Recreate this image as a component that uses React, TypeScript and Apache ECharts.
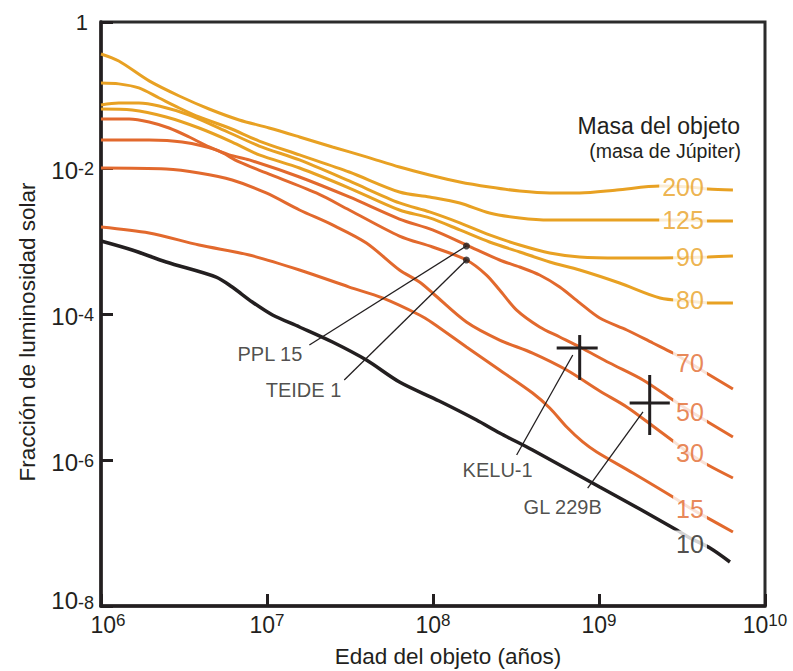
import React, { useEffect, useRef } from 'react';
import * as echarts from 'echarts';

const FONT = '"Liberation Sans", Arial, Helvetica, sans-serif';
const INK = '#231F20';
const GOLD = '#E8A123';
const ORANGE = '#E2692D';

// Axis ticks (age in years, luminosity as fraction of solar)
const xTicks = [1e6, 1e7, 1e8, 1e9, 1e10];
const yTicks = [1e-8, 1e-6, 1e-4, 1e-2, 1];

// Evolutionary tracks: [age (years), luminosity (L/Lsun)]
const mass200 = [
  [1.0e6, 0.365], [1.28e6, 0.292], [1.95e6, 0.156], [2.96e6, 0.0969], [4.48e6, 0.0643],
  [6.8e6, 0.0455], [1.03e7, 0.0353], [1.57e7, 0.0266], [2.48e7, 0.0194], [3.97e7, 0.0142],
  [6.28e7, 0.0103], [9.53e7, 0.00802], [1.45e8, 0.00643], [2.19e8, 0.00549], [3.33e8, 0.00484],
  [5.05e8, 0.00455], [7.65e8, 0.00455], [1.28e9, 0.005], [2.33e9, 0.00567], [3.53e9, 0.00549],
  [4.53e9, 0.00516], [6.41e9, 0.005],
];
const mass125 = [
  [1.0e6, 0.146], [1.28e6, 0.142], [1.69e6, 0.125], [2.24e6, 0.091], [2.96e6, 0.0664],
  [3.9e6, 0.05], [5.92e6, 0.0353], [8.98e6, 0.0234], [1.57e7, 0.0151], [3.13e7, 0.00881],
  [6.28e7, 0.00469], [9.53e7, 0.00401], [1.45e8, 0.00332], [2.19e8, 0.00242], [3.33e8, 0.00207],
  [5.05e8, 0.00194], [7.65e8, 0.00194], [1.53e9, 0.00194], [3.53e9, 0.00194], [4.53e9, 0.00188],
  [6.41e9, 0.00188],
];
const mass90 = [
  [1.0e6, 0.073], [1.28e6, 0.0777], [1.69e6, 0.0777], [2.24e6, 0.0707], [3.4e6, 0.0532],
  [5.15e6, 0.0353], [8.98e6, 0.02], [1.57e7, 0.0129], [3.13e7, 0.00664], [6.28e7, 0.00332],
  [9.53e7, 0.0025], [1.45e8, 0.00177], [2.19e8, 0.00121], [3.33e8, 0.000881], [5.05e8, 0.000685],
  [7.65e8, 0.000604], [1.33e9, 0.000585], [2.33e9, 0.000585], [3.53e9, 0.000595], [4.53e9, 0.000604],
  [6.41e9, 0.000623],
];
const mass80 = [
  [1.0e6, 0.0643], [1.54e6, 0.0623], [2.47e6, 0.05], [3.9e6, 0.0353], [6.17e6, 0.0227],
  [8.98e6, 0.0151], [1.57e7, 0.01], [3.13e7, 0.00532], [6.28e7, 0.00266], [9.53e7, 0.00207],
  [1.45e8, 0.00142], [2.19e8, 0.000969], [3.33e8, 0.000707], [5.05e8, 0.000516], [7.65e8, 0.000401],
  [1.33e9, 0.000266], [2.33e9, 0.000166], [3.53e9, 0.00015], [4.53e9, 0.000142], [6.41e9, 0.000142],
];
const mass70 = [
  [1.0e6, 0.0469], [1.48e6, 0.0469], [1.95e6, 0.0427], [2.57e6, 0.0353], [3.4e6, 0.0266],
  [4.48e6, 0.0194], [5.92e6, 0.0151], [7.82e6, 0.0129], [1.57e7, 0.00753], [3.13e7, 0.00401],
  [6.28e7, 0.002], [9.94e7, 0.00142], [1.59e8, 0.000881], [2.52e8, 0.000549], [3.33e8, 0.00044],
  [4.39e8, 0.000342], [5.8e8, 0.000234], [7.65e8, 0.000142], [1.01e9, 8.81e-5], [1.47e9, 6.04e-5],
  [2.11e9, 4.01e-5], [2.79e9, 2.92e-5], [3.53e9, 2.13e-5], [4.53e9, 1.51e-5], [6.41e9, 9.39e-6],
];
const mass50 = [
  [1.0e6, 0.0242], [1.95e6, 0.0242], [3.08e6, 0.0227], [4.94e6, 0.0177], [6.8e6, 0.0121],
  [9.89e6, 0.00855], [1.98e7, 0.00455], [3.13e7, 0.00266], [6.28e7, 0.00117], [9.94e7, 0.000828],
  [1.59e8, 0.000549], [2.1e8, 0.000342], [2.52e8, 0.000213], [3.19e8, 0.000113], [4.39e8, 6.64e-5],
  [5.8e8, 4.84e-5], [7.65e8, 3.53e-5], [1.16e9, 2.13e-5], [1.84e9, 1.25e-5], [2.79e9, 6.64e-6],
  [3.53e9, 4.69e-6], [4.53e9, 3.32e-6], [6.41e9, 2.07e-6],
];
const mass30 = [
  [1.0e6, 0.01], [2.47e6, 0.00969], [3.9e6, 0.00855], [6.17e6, 0.00685], [9.89e6, 0.00455],
  [1.57e7, 0.00266], [2.48e7, 0.00166], [3.97e7, 0.000939], [6.28e7, 0.000401], [8.29e7, 0.000274],
  [9.94e7, 0.000194], [1.59e8, 7.77e-5], [2.52e8, 4.4e-5], [3.98e8, 2.92e-5], [6.39e8, 1.71e-5],
  [1.01e9, 8.81e-6], [1.47e9, 5.33e-6], [2.11e9, 2.92e-6], [2.79e9, 1.82e-6], [3.53e9, 1.21e-6],
  [4.53e9, 8.55e-7], [6.41e9, 5.67e-7],
];
const mass15 = [
  [1.0e6, 0.00156], [1.95e6, 0.00129], [3.9e6, 0.000881], [7.82e6, 0.000643], [1.57e7, 0.000401],
  [3.13e7, 0.000234], [4.96e7, 0.000166], [8.29e7, 9.69e-5], [9.94e7, 7.53e-5], [1.59e8, 3.53e-5],
  [2.52e8, 1.71e-5], [3.98e8, 8.28e-6], [5.05e8, 5.16e-6], [6.39e8, 2.83e-6], [7.98e8, 1.77e-6],
  [9.69e8, 1.29e-6], [1.6e9, 6.64e-7], [2.79e9, 3.11e-7], [3.53e9, 2.2e-7], [4.53e9, 1.6e-7],
  [6.41e9, 1.03e-7],
];
const mass10 = [
  [1.0e6, 0.001], [1.54e6, 0.000753], [2.47e6, 0.000516], [4.94e6, 0.000321], [6.17e6, 0.000234],
  [8.15e6, 0.000146], [1.08e7, 9.69e-5], [1.57e7, 6.64e-5], [2.48e7, 4.13e-5], [3.97e7, 2.34e-5],
  [6.28e7, 1.17e-5], [1.09e8, 6.43e-6], [1.83e8, 3.53e-6], [2.52e8, 2.34e-6], [3.98e8, 1.37e-6],
  [1.01e9, 4.27e-7], [1.76e9, 2.13e-7], [2.94e9, 1.1e-7], [3.53e9, 8.55e-8], [4.66e9, 6.23e-8],
  [6.15e9, 4.01e-8],
];

// age at which the mass labels sit on each track
const LABEL_AGE = 3.53e9;

// Observed objects
const errorBars = [
  { name: 'KELU-1', age: 7.65e8, ageRange: [5.56e8, 9.82e8], lum: 3.42e-5, lumRange: [1.25e-5, 5.15e-5] },
  { name: 'GL 229B', age: 2.02e9, ageRange: [1.53e9, 2.67e9], lum: 6.04e-6, lumRange: [2.2e-6, 1.46e-5] },
];
const annotations = [
  { name: 'PPL 15', target: [1.59e8, 8.55e-4], anchor: [1.8e7, 3.76e-5], dot: true },
  { name: 'TEIDE 1', target: [1.59e8, 5.49e-4], anchor: [2.92e7, 1.25e-5], dot: true },
  { name: 'KELU-1', target: [6.95e8, 2.74e-5], anchor: [3.19e8, 1.17e-6], dot: false },
  { name: 'GL 229B', target: [1.84e9, 4.55e-6], anchor: [8.55e8, 4.13e-7], dot: false },
];

// styling per track
const tracks = [
  { mass: '200', data: mass200, color: GOLD, width: 3, dy: 0 },
  { mass: '125', data: mass125, color: GOLD, width: 3, dy: 0 },
  { mass: '90', data: mass90, color: GOLD, width: 3, dy: 0 },
  { mass: '80', data: mass80, color: GOLD, width: 3, dy: -1 },
  { mass: '70', data: mass70, color: ORANGE, width: 3, dy: 0 },
  { mass: '50', data: mass50, color: ORANGE, width: 3, dy: 1 },
  { mass: '30', data: mass30, color: ORANGE, width: 3, dy: -1 },
  { mass: '15', data: mass15, color: ORANGE, width: 3, dy: 1 },
  { mass: '10', data: mass10, color: INK, width: 3.5, dy: 6 },
];

const annotationPlacement: Record<string, any> = {
  'PPL 15': { align: 'right', offset: [-7, 9] },
  'TEIDE 1': { align: 'right', offset: [-3, 10] },
  'KELU-1': { align: 'center', offset: [-19, 15] },
  'GL 229B': { align: 'center', offset: [-25, 19] },
};

const expOf = (v: number) => Math.round(Math.log10(v));

function buildOption() {
  const trackSeries = tracks.map((t) => ({
    type: 'line',
    name: t.mass,
    data: t.data,
    smooth: 0.3,
    showSymbol: false,
    symbol: 'none',
    silent: true,
    z: 3,
    lineStyle: { color: t.color, width: t.width },
  }));

  const segments: { pts: number[][]; width: number }[] = [];
  errorBars.forEach((b) => {
    segments.push({ pts: [[b.ageRange[0], b.lum], [b.ageRange[1], b.lum]], width: 3 });
    segments.push({ pts: [[b.age, b.lumRange[0]], [b.age, b.lumRange[1]]], width: 3 });
  });
  annotations.forEach((a) => segments.push({ pts: [a.target, a.anchor], width: 1.3 }));

  const segmentSeries = segments.map((s) => ({
    type: 'line',
    data: s.pts,
    showSymbol: false,
    symbol: 'none',
    silent: true,
    z: 4,
    lineStyle: { color: INK, width: s.width },
  }));

  const dotSeries = {
    type: 'scatter',
    data: annotations.filter((a) => a.dot).map((a) => a.target),
    symbolSize: 7,
    silent: true,
    z: 5,
    itemStyle: { color: INK },
  };

  const annotationText = {
    type: 'scatter',
    symbolSize: 1,
    silent: true,
    z: 6,
    itemStyle: { color: 'rgba(0,0,0,0)' },
    data: annotations.map((a) => ({
      value: a.anchor,
      label: {
        show: true,
        position: 'inside',
        formatter: a.name,
        color: INK,
        fontSize: 20,
        fontFamily: FONT,
        ...annotationPlacement[a.name],
      },
    })),
  };

  const massLabels = {
    type: 'scatter',
    symbolSize: 1,
    silent: true,
    z: 7,
    itemStyle: { color: 'rgba(0,0,0,0)' },
    data: tracks.map((t) => {
      const p = t.data.find((d) => d[0] === LABEL_AGE) as number[];
      return {
        value: p,
        label: {
          show: true,
          position: 'inside',
          align: 'right',
          verticalAlign: 'middle',
          offset: [17, t.dy],
          formatter: t.mass,
          color: t.color,
          fontSize: 25,
          fontFamily: FONT,
          backgroundColor: '#ffffff',
          padding: [1, 3, 1, 3],
        },
      };
    }),
  };

  const yRich = {
    b: { fontSize: 24, lineHeight: 25, color: INK, fontFamily: FONT, padding: [4, 0, 0, 0] },
    s: { fontSize: 18, lineHeight: 18, verticalAlign: 'top', color: INK, fontFamily: FONT, padding: [4, 0, 0, 0] },
    b8: { fontSize: 24, lineHeight: 25, color: INK, fontFamily: FONT, padding: [0, 0, 12, 0] },
    s8: { fontSize: 18, lineHeight: 18, verticalAlign: 'top', color: INK, fontFamily: FONT },
    one: { fontSize: 22, lineHeight: 25, color: INK, fontFamily: FONT, padding: [0, 6, 0, 0] },
  };
  const xRich = {
    b: { fontSize: 23, lineHeight: 26, color: INK, fontFamily: FONT },
    b6: { fontSize: 23, lineHeight: 26, color: INK, fontFamily: FONT, padding: [0, 0, 0, 14] },
    s: { fontSize: 17, lineHeight: 18, verticalAlign: 'top', color: INK, fontFamily: FONT },
  };

  return {
    animation: false,
    backgroundColor: '#ffffff',
    textStyle: { fontFamily: FONT },
    grid: {
      left: 101,
      right: 28,
      top: 22,
      bottom: 65,
      show: true,
      borderColor: '#2b2b2b',
      borderWidth: 3,
      containLabel: false,
      outerBoundsMode: 'none',
    },
    xAxis: {
      type: 'log',
      logBase: 10,
      min: xTicks[0],
      max: xTicks[xTicks.length - 1],
      axisLine: { show: true, lineStyle: { color: INK, width: 3.5 } },
      axisTick: { show: true, inside: true, length: 12, lineStyle: { color: INK, width: 3 }, customValues: xTicks },
      axisLabel: {
        customValues: xTicks,
        margin: 6,
        formatter: (v: number) => {
          const e = expOf(v);
          return e === 6 ? `{b6|10}{s|${e}}` : `{b|10}{s|${e}}`;
        },
        rich: xRich,
      },
      splitLine: { show: false },
      minorTick: { show: false },
    },
    yAxis: {
      type: 'log',
      logBase: 10,
      min: yTicks[0],
      max: yTicks[yTicks.length - 1],
      axisLine: { show: true, lineStyle: { color: INK, width: 3.5 } },
      axisTick: { show: true, inside: true, length: 12, lineStyle: { color: INK, width: 3 }, customValues: yTicks },
      axisLabel: {
        customValues: yTicks,
        margin: 7,
        formatter: (v: number) => {
          const e = expOf(v);
          if (e === 0) return '{one|1}';
          if (e === -8) return `{b8|10}{s8|${e}}`;
          return `{b|10}{s|${e}}`;
        },
        rich: yRich,
      },
      splitLine: { show: false },
      minorTick: { show: false },
    },
    graphic: [
      {
        type: 'text',
        x: 448,
        y: 656,
        style: { text: 'Edad del objeto (años)', fontSize: 22.5, fontFamily: FONT, fill: INK, align: 'center', verticalAlign: 'middle' },
      },
      {
        type: 'text',
        x: 27,
        y: 332,
        rotation: Math.PI / 2,
        style: { text: 'Fracción de luminosidad solar', fontSize: 22.5, fontFamily: FONT, fill: INK, align: 'center', verticalAlign: 'middle' },
      },
      {
        type: 'text',
        x: 740,
        y: 126,
        style: { text: 'Masa del objeto', fontSize: 23, fontFamily: FONT, fill: INK, align: 'right', verticalAlign: 'middle' },
      },
      {
        type: 'text',
        x: 741,
        y: 151,
        style: { text: '(masa de Júpiter)', fontSize: 19.5, fontFamily: FONT, fill: INK, align: 'right', verticalAlign: 'middle' },
      },
    ],
    series: [...trackSeries, ...segmentSeries, dotSeries, annotationText, massLabels],
  };
}

export default function App() {
  const ref = useRef<HTMLDivElement>(null);
  useEffect(() => {
    if (!ref.current) return;
    const chart = echarts.init(ref.current, undefined, { renderer: 'svg' });
    chart.setOption(buildOption() as any);
    return () => chart.dispose();
  }, []);
  return (
    <div
      ref={ref}
      style={{ position: 'fixed', left: 0, top: 0, width: 793, height: 671, background: '#ffffff' }}
    />
  );
}
